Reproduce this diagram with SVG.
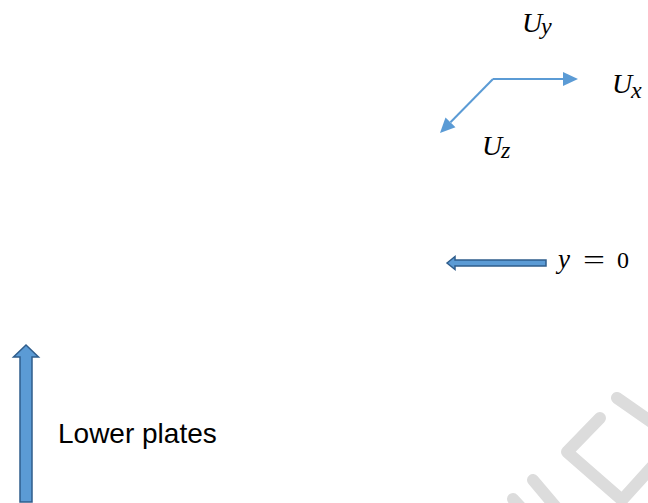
<svg xmlns="http://www.w3.org/2000/svg" width="648" height="503" viewBox="0 0 648 503">
<style>
.math{font-family:"Liberation Serif","DejaVu Serif",serif;font-style:italic;fill:#000}
.num{font-family:"Liberation Serif","DejaVu Serif",serif;fill:#000}
.label{font-family:"Liberation Sans",Arial,sans-serif;font-size:28px;fill:#000}
.axis{stroke:#5B9BD5;stroke-width:2;fill:none}
.block{fill:#5B9BD5;stroke:#2F5D8C;stroke-width:1.5}
.wm{stroke:#DCDCDC;stroke-width:12;stroke-linecap:round;stroke-linejoin:round;fill:none}
</style>
<defs>
<marker id="head" markerUnits="userSpaceOnUse" markerWidth="16" markerHeight="16" viewBox="0 -8 16 16" refX="0" refY="0" orient="auto">
<path d="M0,-7 L15,0 L0,7 z" fill="#5B9BD5"/>
</marker>
</defs>
<rect width="648" height="503" fill="#fff"/>
<g id="watermark">
<line class="wm" x1="617" y1="398" x2="670" y2="435"/>
<polyline class="wm" points="600,418 567,452 622,500 660,458"/>
<line class="wm" x1="533" y1="480" x2="560" y2="512"/>
<line class="wm" x1="513" y1="499" x2="525" y2="512"/>
</g>
<g id="connectors">
<line class="axis" x1="493" y1="79" x2="563" y2="79" marker-end="url(#head)"/>
<line class="axis" x1="493" y1="79" x2="450.5" y2="122.3" marker-end="url(#head)"/>
</g>
<g id="label-Uy">
<text class="math" x="522" y="32" font-size="28">U</text>
<text class="math" x="541" y="34" font-size="24">y</text>
</g>
<g id="label-Ux">
<text class="math" x="612" y="93" font-size="28">U</text>
<text class="math" x="631" y="98" font-size="24">x</text>
</g>
<g id="label-Uz">
<text class="math" x="482" y="155" font-size="28">U</text>
<text class="math" x="501" y="158" font-size="24">z</text>
</g>
<g id="y0-arrow">
<polygon class="block" points="447,263 455,256.5 455,260 546,260 546,266 455,266 455,269.5"/>
</g>
<g id="label-y0">
<text class="math" x="558" y="268" font-size="27">y</text>
<text class="num" x="583" y="269" font-size="28" textLength="22" lengthAdjust="spacingAndGlyphs">=</text>
<text class="num" x="617" y="268" font-size="24">0</text>
</g>
<g id="lower-plates-arrow">
<polygon class="block" points="26,345 38.5,357 32,357 32,502 20,502 20,357 13.5,357"/>
</g>
<g id="label-lower-plates">
<text class="label" x="58" y="443">Lower plates</text>
</g>
</svg>
